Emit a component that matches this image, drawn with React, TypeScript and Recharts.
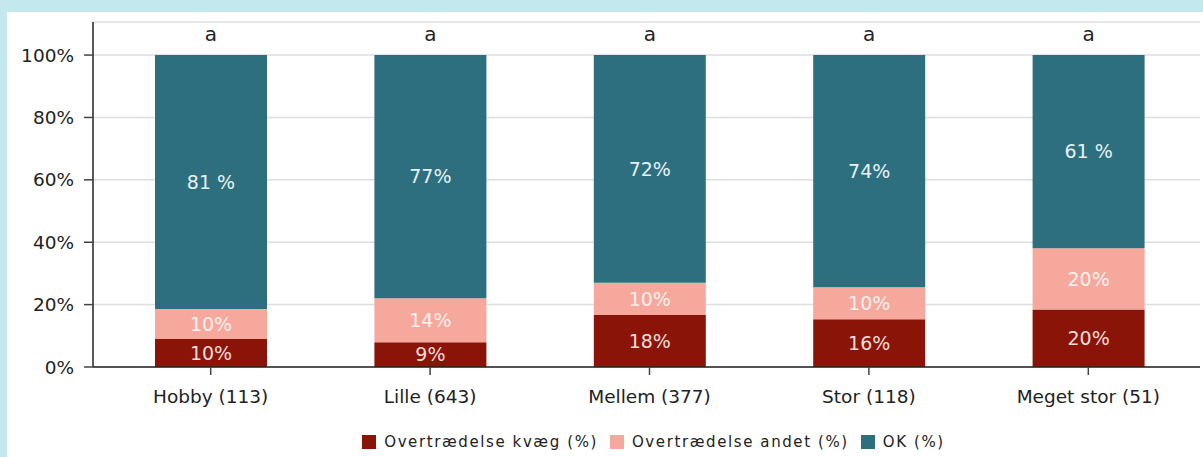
import React from "react";
import { BarChart, Bar, XAxis, YAxis, CartesianGrid, LabelList, Legend } from "recharts";

const categories = ["Hobby (113)", "Lille (643)", "Mellem (377)", "Stor (118)", "Meget stor (51)"];
const kvaeg = [9.0, 7.9, 16.7, 15.3, 18.4];
const andet = [9.6, 14.1, 10.3, 10.3, 19.7];
const ok = [81.4, 78.0, 73.0, 74.4, 61.9];
const kvaegLabels = ["10%", "9%", "18%", "16%", "20%"];
const andetLabels = ["10%", "14%", "10%", "10%", "20%"];
const okLabels = ["81 %", "77%", "72%", "74%", "61 %"];
const topLetters = ["a", "a", "a", "a", "a"];
const yTicks = [0, 20, 40, 60, 80, 100];

const seriesNames = ["Overtrædelse kvæg (%)", "Overtrædelse andet (%)", "OK (%)"];
const colors = ["#8b1409", "#f6a89d", "#2e6f7f"];

const data = categories.map((name, i) => ({
  name,
  kvaeg: kvaeg[i],
  andet: andet[i],
  ok: ok[i],
  kvaegLabel: kvaegLabels[i],
  andetLabel: andetLabels[i],
  okLabel: okLabels[i],
  letter: topLetters[i],
}));

const FONT = "'DejaVu Sans', sans-serif";

const renderLegend = () => (
  <div
    style={{
      display: "flex",
      justifyContent: "center",
      alignItems: "center",
      height: 30,
      paddingLeft: 100,
      fontFamily: FONT,
      fontSize: 15,
      letterSpacing: 1.6,
      color: "#222",
    }}
  >
    {seriesNames.map((n, i) => (
      <div key={n} style={{ display: "flex", alignItems: "center", marginRight: i < 2 ? 12 : 0 }}>
        <div style={{ width: 14, height: 14, background: colors[i], marginRight: 8 }} />
        <span>{n}</span>
      </div>
    ))}
  </div>
);

export default function App() {
  return (
    <div
      style={{
        position: "absolute",
        left: 0,
        top: 0,
        width: 1203,
        height: 457,
        background: "#c3e9ee",
        overflow: "hidden",
      }}
    >
      <div style={{ position: "absolute", left: 7, top: 12, width: 1196, height: 445, background: "#fff" }}>
        <BarChart
          width={1196}
          height={445}
          data={data}
          margin={{ top: 10, right: 3, left: 0, bottom: 0 }}
          style={{ fontFamily: FONT }}
        >
          <CartesianGrid vertical={false} stroke="#dedede" strokeWidth={1.5} />
          <XAxis
            dataKey="name"
            height={60}
            padding={{ left: 8, right: 2 }}
            axisLine={{ stroke: "#222", strokeWidth: 1.5 }}
            tickLine={{ stroke: "#444", strokeWidth: 1.5 }}
            tickSize={8}
            tickMargin={15}
            tick={{ fill: "#222", fontSize: 18.5, fontFamily: FONT }}
            interval={0}
          />
          <YAxis
            width={86}
            domain={[0, 110.6]}
            ticks={yTicks}
            tickFormatter={(v: number) => `${v}%`}
            axisLine={{ stroke: "#222", strokeWidth: 1.5 }}
            tickLine={{ stroke: "#444", strokeWidth: 1.5 }}
            tickSize={9}
            tickMargin={10}
            tick={{ fill: "#222", fontSize: 18.5, fontFamily: FONT }}
            allowDataOverflow
          />
          <Legend verticalAlign="bottom" height={30} content={renderLegend} />
          <Bar dataKey="kvaeg" stackId="s" fill={colors[0]} barSize={112} isAnimationActive={false}>
            <LabelList dataKey="kvaegLabel" position="center" fill="#f8ddd7" fontSize={19} fontFamily={FONT} />
          </Bar>
          <Bar dataKey="andet" stackId="s" fill={colors[1]} barSize={112} isAnimationActive={false}>
            <LabelList dataKey="andetLabel" position="center" fill="#fff1ee" fontSize={19} fontFamily={FONT} />
          </Bar>
          <Bar dataKey="ok" stackId="s" fill={colors[2]} barSize={112} isAnimationActive={false}>
            <LabelList dataKey="okLabel" position="center" fill="#e4f3f5" fontSize={19} fontFamily={FONT} />
            <LabelList dataKey="letter" position="top" offset={14} fill="#222" fontSize={20} fontFamily={FONT} />
          </Bar>
        </BarChart>
      </div>
    </div>
  );
}
